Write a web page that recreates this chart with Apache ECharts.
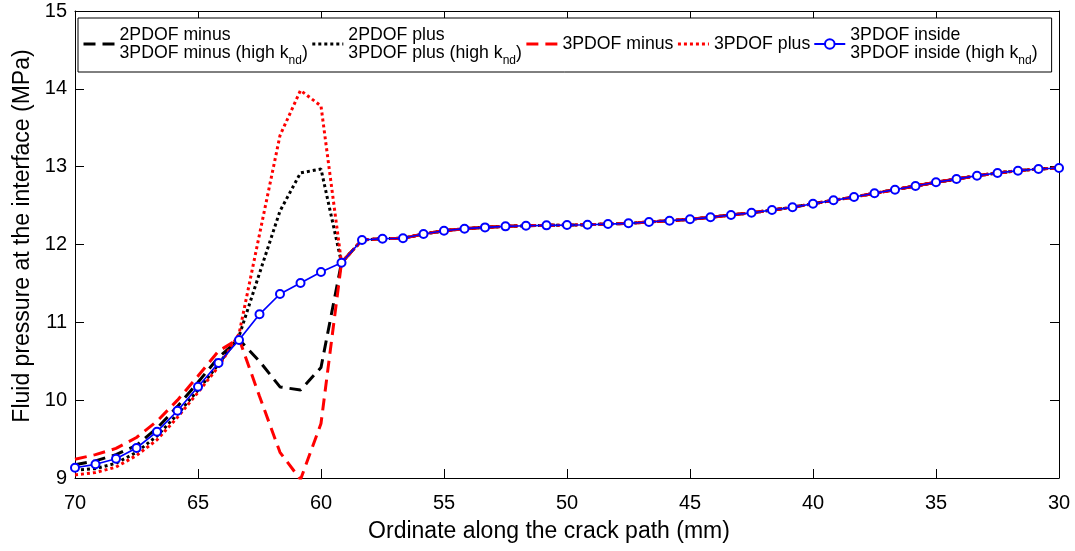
<!DOCTYPE html>
<html><head><meta charset="utf-8">
<script src="https://cdn.jsdelivr.net/npm/echarts@6/dist/echarts.min.js"></script>
<style>html,body{margin:0;padding:0;background:#fff}#c{width:1075px;height:551px}</style>
</head><body><div id="c"></div>
<script>
// Ordinate along the crack path (mm), 49 sampling points
const ordinates = [70, 69.167, 68.333, 67.5, 66.667, 65.833, 65, 64.167, 63.333, 62.5, 61.667, 60.833, 60,
  59.167, 58.333, 57.5, 56.667, 55.833, 55, 54.167, 53.333, 52.5, 51.667, 50.833, 50, 49.167, 48.333,
  47.5, 46.667, 45.833, 45, 44.167, 43.333, 42.5, 41.667, 40.833, 40, 39.167, 38.333, 37.5, 36.667,
  35.833, 35, 34.167, 33.333, 32.5, 31.667, 30.833, 30];

// Points 13..48 (59.167 mm down to 30 mm): all curves coincide
const sharedTail = [11.766, 12.058, 12.075, 12.08, 12.135, 12.177, 12.203, 12.22, 12.233, 12.241, 12.246,
  12.25, 12.254, 12.263, 12.272, 12.289, 12.306, 12.324, 12.349, 12.379, 12.407, 12.443, 12.478, 12.524,
  12.568, 12.610, 12.658, 12.704, 12.752, 12.800, 12.841, 12.884, 12.919, 12.948, 12.970, 12.983];

// Points 0..12 (70 mm down to 60 mm)
const minus2Head  = [9.17, 9.22, 9.30, 9.42, 9.64, 9.92, 10.23, 10.55, 10.78, 10.50, 10.17, 10.13, 10.42];
const plus2Head   = [9.10, 9.12, 9.19, 9.33, 9.54, 9.82, 10.13, 10.46, 10.82, 11.63, 12.43, 12.92, 12.97];
const minus3Head  = [9.24, 9.30, 9.38, 9.52, 9.73, 10.00, 10.31, 10.63, 10.79, 10.05, 9.33, 8.98, 9.70];
const plus3Head   = [9.04, 9.07, 9.14, 9.29, 9.49, 9.78, 10.10, 10.43, 10.85, 12.13, 13.40, 13.98, 13.78];
const insideHead  = [9.132, 9.176, 9.248, 9.385, 9.595, 9.864, 10.173, 10.477, 10.773, 11.103, 11.364, 11.505, 11.647];

const xTicks = [30, 35, 40, 45, 50, 55, 60, 65, 70];
const yTicks = [9, 10, 11, 12, 13, 14, 15];

const legendText = {
  minus2: '{t|2PDOF minus}\n{t|3PDOF minus (high k}{s|nd}{t|)}',
  plus2: '{t|2PDOF plus}\n{t|3PDOF plus (high k}{s|nd}{t|)}',
  minus3: '{u|3PDOF minus}',
  plus3: '{u|3PDOF plus}',
  inside: '{t|3PDOF inside}\n{t|3PDOF inside (high k}{s|nd}{t|)}'
};

function pairs(head) {
  return ordinates.map((x, i) => [x, i < head.length ? head[i] : sharedTail[i - head.length]]);
}

const FONT = "'Liberation Sans', Arial, Helvetica, sans-serif";
const chart = echarts.init(document.getElementById('c'), null, {renderer: 'canvas'});

const axisCommon = {
  axisLine: {show: true, onZero: false, lineStyle: {color: '#000', width: 1}},
  axisTick: {show: true, inside: true, length: 9, lineStyle: {color: '#000', width: 1}},
  splitLine: {show: false}
};

const DASH = [12, 7], DOT = [3, 3];
const hidden = {color: 'rgba(0,0,0,0)', borderColor: 'rgba(0,0,0,0)', borderWidth: 0, opacity: 0};

chart.setOption({
  animation: false,
  backgroundColor: '#fff',
  grid: {left: 75, right: 16, top: 11, bottom: 73, containLabel: false},
  xAxis: [
    Object.assign({}, axisCommon, {
      type: 'value', position: 'bottom', inverse: true, min: xTicks[0], max: xTicks[xTicks.length - 1], interval: 5,
      axisLabel: {color: '#000', fontSize: 20, fontFamily: FONT, margin: 15},
      name: 'Ordinate along the crack path (mm)', nameLocation: 'middle', nameGap: 42,
      nameTextStyle: {color: '#000', fontSize: 23, fontFamily: FONT, padding: [0, 36, 0, 0]}
    }),
    Object.assign({}, axisCommon, {
      type: 'value', position: 'top', inverse: true, min: xTicks[0], max: xTicks[xTicks.length - 1], interval: 5,
      axisLabel: {show: false}
    })
  ],
  yAxis: [
    Object.assign({}, axisCommon, {
      type: 'value', position: 'left', min: yTicks[0], max: yTicks[yTicks.length - 1], interval: 1,
      axisLabel: {color: '#000', fontSize: 20, fontFamily: FONT, margin: 8},
      name: 'Fluid pressure at the interface (MPa)', nameLocation: 'middle', nameGap: 40,
      nameTextStyle: {color: '#000', fontSize: 23, fontFamily: FONT, padding: [0, 0, 0, 17]}
    }),
    Object.assign({}, axisCommon, {
      type: 'value', position: 'right', min: yTicks[0], max: yTicks[yTicks.length - 1], interval: 1,
      axisLabel: {show: false}
    })
  ],
  legend: {
    left: 78, top: 18, orient: 'horizontal',
    padding: [8, 14, 5, 4],
    itemGap: 3, itemWidth: 31, itemHeight: 12,
    backgroundColor: '#fff', borderColor: '#000', borderWidth: 1, borderRadius: 0,
    formatter: name => legendText[name],
    textStyle: {
      color: '#000', fontFamily: FONT, fontSize: 17.7,
      rich: {
        t: {fontSize: 17.7, lineHeight: 18, fontFamily: FONT, color: '#000'},
        s: {fontSize: 12, lineHeight: 18, fontFamily: FONT, color: '#000', padding: [16, 0, 0, 0]},
        u: {fontSize: 17.7, lineHeight: 36, fontFamily: FONT, color: '#000'}
      }
    },
    data: [
      {name: 'minus2', itemStyle: hidden, lineStyle: {color: '#000', width: 3, type: DASH}},
      {name: 'plus2', itemStyle: hidden, lineStyle: {color: '#000', width: 3, type: DOT}},
      {name: 'minus3', itemStyle: hidden, lineStyle: {color: '#ff0000', width: 3, type: DASH}},
      {name: 'plus3', itemStyle: hidden, lineStyle: {color: '#ff0000', width: 3, type: DOT}},
      {name: 'inside', lineStyle: {color: '#0000ff', width: 2, type: 'solid'}}
    ]
  },
  series: [
    {name: 'minus2', type: 'line', data: pairs(minus2Head), symbol: 'none', color: '#000',
     lineStyle: {color: '#000', width: 3, type: DASH, cap: 'butt'}, z: 2},
    {name: 'plus2', type: 'line', data: pairs(plus2Head), symbol: 'none', color: '#000',
     lineStyle: {color: '#000', width: 3, type: DOT, cap: 'butt'}, z: 2},
    {name: 'minus3', type: 'line', data: pairs(minus3Head), symbol: 'none', color: '#ff0000',
     lineStyle: {color: '#ff0000', width: 3, type: DASH, cap: 'butt'}, z: 3},
    {name: 'plus3', type: 'line', data: pairs(plus3Head), symbol: 'none', color: '#ff0000',
     lineStyle: {color: '#ff0000', width: 3, type: DOT, cap: 'butt'}, z: 3},
    {name: 'inside', type: 'line', data: pairs(insideHead), symbol: 'emptyCircle', symbolSize: 8, color: '#0000ff',
     itemStyle: {color: '#0000ff', borderColor: '#0000ff', borderWidth: 1.6},
     lineStyle: {color: '#0000ff', width: 1.7}, z: 4}
  ]
});
</script>
</body></html>
